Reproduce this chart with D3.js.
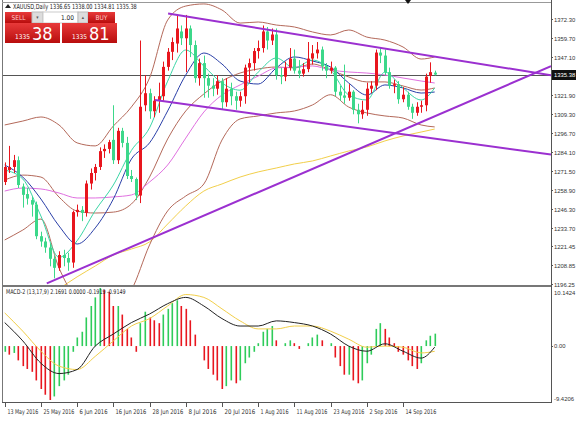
<!DOCTYPE html>
<meta charset="utf-8">
<style>
body { margin: 0; background: #fff; }
svg { display: block; }
text { font-family: "Liberation Sans Narrow", "DejaVu Sans Condensed", "Liberation Sans", sans-serif; }
text.ax { font-family: "Liberation Sans", sans-serif; font-size: 5.9px; }
</style>
<body>
<script src="https://d3js.org/d3.v7.min.js"></script>
<script>
// daily bars, 13 May - 23 Sep 2016
var dates = ["2016-05-13","2016-05-16","2016-05-17","2016-05-18","2016-05-19","2016-05-20","2016-05-23","2016-05-24","2016-05-25","2016-05-26","2016-05-27","2016-05-30","2016-05-31",
  "2016-06-01","2016-06-02","2016-06-03","2016-06-06","2016-06-07","2016-06-08","2016-06-09","2016-06-10","2016-06-13","2016-06-14","2016-06-15","2016-06-16","2016-06-17","2016-06-20","2016-06-21","2016-06-22","2016-06-23","2016-06-24","2016-06-27","2016-06-28","2016-06-29","2016-06-30",
  "2016-07-01","2016-07-04","2016-07-05","2016-07-06","2016-07-07","2016-07-08","2016-07-11","2016-07-12","2016-07-13","2016-07-14","2016-07-15","2016-07-18","2016-07-19","2016-07-20","2016-07-21","2016-07-22","2016-07-25","2016-07-26","2016-07-27","2016-07-28","2016-07-29",
  "2016-08-01","2016-08-02","2016-08-03","2016-08-04","2016-08-05","2016-08-08","2016-08-09","2016-08-10","2016-08-11","2016-08-12","2016-08-15","2016-08-16","2016-08-17","2016-08-18","2016-08-19","2016-08-22","2016-08-23","2016-08-24","2016-08-25","2016-08-26","2016-08-29","2016-08-30","2016-08-31",
  "2016-09-01","2016-09-02","2016-09-05","2016-09-06","2016-09-07","2016-09-08","2016-09-09","2016-09-12","2016-09-13","2016-09-14","2016-09-15","2016-09-16","2016-09-19","2016-09-20","2016-09-21","2016-09-22","2016-09-23"];

var open = [1264,1272,1274,1278.5,1261,1256,1252,1249,1228,1224.5,1220.5,1213,1207,1215.5,1213.5,1210.5,1244,1245.5,1243.5,1263,1270,1274,1284.5,1286,1292,1278.5,1298,1290,1268,1266,1255,1315,1323,1311,1318,
  1321,1340.5,1350.5,1356,1364,1359.5,1366,1355,1333,1343,1333,1328,1326,1331,1317,1326,1321,1318,1321,1340,1343,
  1351,1353,1364,1358,1362,1335,1334,1340,1346,1338,1336,1339,1346,1349.5,1352,1341,1338,1340,1324,1321.5,1320,1324,1312,
  1309,1312,1326,1328,1350,1348,1337,1328,1329,1319,1322,1314,1310,1314,1315,1334.5,1336.65];
var high = [1277,1288,1282,1281,1263,1260,1254,1251,1231,1227,1223,1215,1218,1219,1217,1245,1249,1248,1265,1273,1276,1287,1289,1292,1315,1300,1300,1294,1272,1267,1358,1335,1326,1321,1330,
  1344,1353,1360,1375,1368,1375,1368,1358,1346,1348,1336,1333,1335,1333,1333,1330,1324,1324,1342,1346,1353,
  1358,1368,1367,1366,1366,1340,1344,1353,1352,1345,1343,1357,1355,1357,1354,1343,1344,1341,1328,1342,1329,1325,1316,
  1318,1330,1331,1352,1353,1352,1340,1332,1331,1327,1324,1316,1317,1318,1336,1343.5,1338];
var low = [1262,1270,1270,1260,1247,1249,1241,1226,1221,1217,1208,1200,1205,1208,1205,1207,1241,1238,1241,1259,1265,1272,1280,1283,1276,1276,1287,1266,1264,1252,1250,1311,1306,1307,1310,
  1318,1338,1345,1350,1355,1337,1347,1330,1328,1320,1320,1321,1322,1312,1314,1315,1312,1314,1316,1330,1338,
  1346,1350,1352,1355,1332,1329,1331,1338,1336,1333,1334,1337,1342,1346,1338,1333,1336,1321,1318,1316,1318,1309,1303,
  1306,1308,1323,1325,1343,1335,1326,1323,1316,1317,1312,1306,1308,1310,1311,1330,1334.81];
var close = [1274,1274,1278.5,1262,1255.5,1253,1249,1228,1224.5,1220.5,1213,1207,1215.5,1213.5,1210.5,1244,1245.5,1243.5,1263,1270,1274,1284.5,1286,1290.5,1278.5,1298,1290,1268,1266,1255,1314,1323,1311,1318,1321,
  1340.5,1350.5,1357,1366,1359.5,1366,1355,1333,1343,1333,1328,1326,1331,1317,1326,1321,1318,1321,1340,1343,1351,
  1353,1364,1358,1362,1335,1334,1340,1346,1338,1336,1339,1346,1349.5,1352,1341,1338,1340,1324,1321.5,1320,1324,1312,1309,
  1312,1326,1328,1350,1348,1337,1328,1329,1319,1322,1314,1310,1314,1315,1334,1337,1335.38];

// indicator lines, read at these bars
var sampleBars = [0,4,8,12,16,20,24,28,32,36,40,44,48,52,56,60,64,68,72,76,80,84,88,92,95];
var maFast    = [1272,1266,1241.4,1214,1225,1245,1262,1285,1300,1331,1351.7,1341,1329.8,1325,1337,1346.4,1339.8,1345,1338.4,1321.8,1318.5,1337,1326.5,1318.5,1326.5];
var maMid     = [1275.3,1267.3,1252.7,1234.8,1222.8,1233.5,1252.7,1279.3,1290,1311.2,1335.1,1349.7,1342.4,1331.1,1329.1,1339.8,1347.1,1344.4,1340.4,1329.8,1321.8,1328.5,1326.5,1323.1,1323.8];
var maSlow    = [1258,1260,1259.4,1256.7,1253.4,1253.4,1254.1,1255.4,1264,1275.3,1293.2,1310.5,1321.8,1328.5,1334.4,1339.8,1340.4,1341.1,1338.4,1337.1,1336.4,1335.1,1333.1,1331.1,1329.8];
var maLong    = [null,null,null,1193,1201,1208.2,1215.5,1219.5,1224.2,1236.1,1248.1,1258,1262.7,1267.3,1270.7,1273.3,1276,1278,1281.3,1284.6,1287.3,1291.3,1294.6,1297.2,1299.2];
var bandUpper = [1301.9,1304.5,1307.2,1301.9,1290,1288,1301.2,1313.9,1333.1,1371.6,1380.9,1382.3,1378.3,1369.6,1370.3,1368.3,1367,1363.7,1361.7,1365,1360.3,1358.3,1353.7,1345.7,1347.1];
var bandMid   = [1265.3,1268.6,1267.3,1254,1244.7,1243.4,1244,1249.4,1267.3,1292.6,1311.2,1322.5,1331.1,1336.4,1339.1,1340.4,1339.8,1342.4,1338.4,1333.8,1330.5,1330.5,1327.8,1325.1,1326.5];
var bandLower = [1225.5,1232.1,1239.4,1206.9,1185,1176,1180,1192.3,1222.2,1244.8,1254.7,1262.7,1291.9,1305.9,1307.9,1309.9,1311.2,1315.2,1322,1313.8,1309.9,1307.9,1306.5,1301.9,1300.6];

// MACD-2 (13,17,9)
var macdHist = [-1,-1.5,-1.2,-2.5,-3.5,-4,-4.5,-6,-7.5,-8.5,-9.4206,-8.8,-7,-6,-5,-1,1.5,2.5,5,7,8.5,10.1424,9.8,9.5,7,7,5.5,3,1.5,-1,4,6,5,4.5,
  4,5.5,6.5,7.5,8,7,6.5,4.5,2,0,-2.5,-4,-5,-6,-7.5,-7,-6,-6.5,-6,-3,-2,-1,0.5,2.5,3,3.5,1,0,0.5,1,0.5,-0.5,
  0,0.5,1.5,2,1,0,0.5,-2,-3.5,-5,-5,-6,-6.5,-6,-3,-1.5,3,4,3,1.5,0.5,-1,-1.5,-2.5,-3.5,-4,-3,1,1.8,2.1691];
var macdMain   = [4.1,0.9,-3,-4.8,-4.1,0,2.1,4.1,5.6,7.4,8.5,7,4.8,3.5,3.5,4.4,4.1,3.5,2.1,0,-0.9,0.4,-0.9,-2.1,-0.1919];
var macdSignal = [5.8,2.6,-0.9,-3.5,-4.1,-1.8,0.9,3.5,4.8,7,9,8.5,6.5,4.4,3,3,3.5,3.5,2.6,1.2,-0.2,0,-0.2,-1.2,-0.9149];

var priceTicks = [1372.30,1359.70,1347.10,1321.90,1309.30,1296.70,1284.10,1271.50,1258.90,1246.30,1233.70,1221.45,1208.85,1196.25];
var lastPrice = 1335.38, askPrice = 1335.81;
var macdMax = 10.1424, macdMin = -9.4206;
// trend lines: [bar, price, bar, price]
var trendLines = [[36.1,1375.9,120.7,1334.9],[33.2,1318.5,120.7,1282.2],[9.3,1196.7,120.7,1341.0]];

var W = 576, H = 425;
var plotL = 3, plotR = 551;
var mainTop = 3, mainBot = 285, macdTop = 287, macdBot = 402;

var svg = d3.select("body").append("svg").attr("width", W).attr("height", H);
var defs = svg.append("defs");
defs.append("clipPath").attr("id", "clipMain").append("rect")
  .attr("x", plotL).attr("y", mainTop).attr("width", plotR - plotL).attr("height", mainBot - mainTop);
defs.append("clipPath").attr("id", "clipMacd").append("rect")
  .attr("x", plotL).attr("y", macdTop).attr("width", plotR - plotL).attr("height", macdBot - macdTop);

var x = d3.scaleLinear().domain([0, dates.length - 1]).range([4.7, 434.7]);
var y = d3.scaleLinear().domain([1196.25, 1372.30]).range([284, 19]);
var ym = d3.scaleLinear().domain([macdMin, macdMax]).range([400, 288]);
var parse = d3.timeParse("%Y-%m-%d"), fmt = d3.timeFormat("%-d %b %Y");

// narrow text helper (chart font is a small tahoma)
function label(g, tx, ty, str, size, perChar, color) {
  return g.append("text").attr("x", tx).attr("y", ty).attr("font-size", size)
    .attr("fill", color || "#333").attr("textLength", str.length * perChar)
    .attr("lengthAdjust", "spacingAndGlyphs").text(str);
}
function axLabel(g, ty, str, color) {
  return g.append("text").attr("class", "ax").attr("x", plotR + 3).attr("y", ty)
    .attr("fill", color || "#333").text(str);
}

// frames
svg.append("line").attr("x1", 2.5).attr("x2", 2.5).attr("y1", 0).attr("y2", macdBot).attr("stroke", "#777");
svg.append("line").attr("x1", 2).attr("x2", plotR).attr("y1", 2.5).attr("y2", 2.5).attr("stroke", "#999");
svg.append("line").attr("x1", plotR + 0.5).attr("x2", plotR + 0.5).attr("y1", 0).attr("y2", macdBot + 1).attr("stroke", "#555");
svg.append("line").attr("x1", 2).attr("x2", plotR).attr("y1", mainBot + 0.5).attr("y2", mainBot + 0.5).attr("stroke", "#777");
svg.append("line").attr("x1", 2).attr("x2", plotR).attr("y1", macdTop - 0.5).attr("y2", macdTop - 0.5).attr("stroke", "#777");
svg.append("line").attr("x1", 2).attr("x2", plotR + 1).attr("y1", macdBot + 0.5).attr("y2", macdBot + 0.5).attr("stroke", "#555");

var main = svg.append("g").attr("clip-path", "url(#clipMain)");

// price line
main.append("line").attr("x1", plotL).attr("x2", plotR)
  .attr("y1", Math.round(y(lastPrice)) + 0.5).attr("y2", Math.round(y(lastPrice)) + 0.5)
  .attr("stroke", "#555").attr("stroke-width", 1);

function sampled(arr) {
  return arr.map(function(v, k) { return { i: sampleBars[k], v: v }; });
}
function drawLine(g, arr, scale, color, width) {
  var line = d3.line().defined(function(d) { return d.v != null; })
    .x(function(d) { return x(d.i); }).y(function(d) { return scale(d.v); })
    .curve(d3.curveMonotoneX);
  g.append("path").datum(sampled(arr)).attr("d", line)
    .attr("fill", "none").attr("stroke", color).attr("stroke-width", width || 1);
}

drawLine(main, maLong, y, "#f2cf4a");
drawLine(main, bandUpper, y, "#b4695a");
drawLine(main, bandMid, y, "#b4695a");
drawLine(main, bandLower, y, "#b4695a");
drawLine(main, maSlow, y, "#e070e0");
drawLine(main, maMid, y, "#2a3fa8");
drawLine(main, maFast, y, "#3ad6a6");

// candles
var bars = dates.map(function(d, i) { return { i: i, o: open[i], h: high[i], l: low[i], c: close[i] }; });
var upCol = "#e8161e", dnCol = "#3cd88a";
main.selectAll("line.wick").data(bars).enter().append("line")
  .attr("x1", function(d) { return Math.round(x(d.i)) + 0.5; })
  .attr("x2", function(d) { return Math.round(x(d.i)) + 0.5; })
  .attr("y1", function(d) { return y(d.h); })
  .attr("y2", function(d) { return y(d.l); })
  .attr("stroke", function(d) { return d.c >= d.o ? upCol : dnCol; });
main.selectAll("rect.body").data(bars).enter().append("rect")
  .attr("x", function(d) { return Math.round(x(d.i)) - 1; })
  .attr("width", 3)
  .attr("y", function(d) { return y(Math.max(d.o, d.c)); })
  .attr("height", function(d) { return Math.max(1, Math.abs(y(d.o) - y(d.c))); })
  .attr("fill", function(d) { return d.c >= d.o ? upCol : dnCol; });

// trend lines
main.selectAll("line.trend").data(trendLines).enter().append("line")
  .attr("x1", function(d) { return x(d[0]); }).attr("y1", function(d) { return y(d[1]); })
  .attr("x2", function(d) { return x(d[2]); }).attr("y2", function(d) { return y(d[3]); })
  .attr("stroke", "#9b30d0").attr("stroke-width", 2);

// price axis
var axis = svg.append("g");
priceTicks.forEach(function(p) {
  var yy = Math.round(y(p)) + 0.5;
  axis.append("line").attr("x1", plotR).attr("x2", plotR + 2).attr("y1", yy).attr("y2", yy).attr("stroke", "#555");
  axLabel(axis, yy + 2.2, p.toFixed(2));
});
var yl = Math.round(y(lastPrice));
axis.append("rect").attr("x", plotR + 1).attr("y", yl - 5).attr("width", 24).attr("height", 10).attr("fill", "#111");
axLabel(axis, yl + 2.2, lastPrice.toFixed(2), "#fff");

// MACD
var mg = svg.append("g").attr("clip-path", "url(#clipMacd)");
mg.selectAll("rect.hist").data(macdHist).enter().append("rect")
  .attr("x", function(d, i) { return Math.round(x(i)) - 0.5; })
  .attr("width", 1.6)
  .attr("y", function(d) { return Math.min(ym(d), ym(0)); })
  .attr("height", function(d) { return Math.abs(ym(d) - ym(0)); })
  .attr("fill", function(d, i) { return i > 0 && d < macdHist[i - 1] ? "#e8161e" : "#2ecc5a"; });
drawLine(mg, macdSignal, ym, "#f2cf4a");
drawLine(mg, macdMain, ym, "#222");

axLabel(axis, ym(macdMax) + 7, macdMax.toFixed(4));
axis.append("line").attr("x1", plotR).attr("x2", plotR + 2).attr("y1", Math.round(ym(0)) + 0.5).attr("y2", Math.round(ym(0)) + 0.5).attr("stroke", "#555");
axLabel(axis, ym(0) + 2.2, "0.00");
axLabel(axis, ym(macdMin) + 1, macdMin.toFixed(4));

label(svg, 6, macdTop + 7, "MACD-2 (13,17,9) 2.1691 0.0000 -0.1919 -0.9149", 6.5, 2.6, "#222");

// time axis
var tg = svg.append("g");
dates.forEach(function(d, i) {
  if (i % 8 !== 0) return;
  var xx = Math.round(x(i)) + 0.5;
  tg.append("line").attr("x1", xx).attr("x2", xx).attr("y1", macdBot + 1).attr("y2", macdBot + 5).attr("stroke", "#555");
  var s = fmt(parse(d));
  label(tg, xx + 2, 414, s, 6.5, 2.8);
});

// header
svg.append("path").attr("d", "M5,8 L8,4 L11,8 Z").attr("fill", "#222");
label(svg, 13, 9, "XAUUSD,Daily  " + [open[95], high[95], low[95], close[95]].map(function(v) { return v.toFixed(2); }).join(" "), 7, 2.75, "#222");
svg.append("path").attr("d", "M405,0 L411,0 L408,4 Z").attr("fill", "#111");

// one click trading panel
var grad = defs.append("linearGradient").attr("id", "redg").attr("x1", 0).attr("x2", 0).attr("y1", 0).attr("y2", 1);
grad.append("stop").attr("offset", 0).attr("stop-color", "#e83a3a");
grad.append("stop").attr("offset", 1).attr("stop-color", "#b80d0d");
var tp = svg.append("g");
tp.append("rect").attr("x", 5).attr("y", 12).attr("width", 27).attr("height", 11).attr("fill", "url(#redg)");
tp.append("text").attr("x", 18.5).attr("y", 20).attr("text-anchor", "middle").attr("font-size", 6.5).attr("fill", "#fcc").text("SELL");
tp.append("rect").attr("x", 32).attr("y", 12).attr("width", 11).attr("height", 11).attr("fill", "#ddd").attr("stroke", "#bbb");
tp.append("text").attr("x", 37.5).attr("y", 19).attr("text-anchor", "middle").attr("font-size", 5).attr("fill", "#555").text("▾");
tp.append("rect").attr("x", 43).attr("y", 12).attr("width", 35).attr("height", 11).attr("fill", "#fff").attr("stroke", "#ccc");
tp.append("text").attr("x", 74).attr("y", 20).attr("text-anchor", "end").attr("font-size", 6.5).attr("fill", "#222").text("1.00");
tp.append("rect").attr("x", 78).attr("y", 12).attr("width", 10).attr("height", 11).attr("fill", "#ddd").attr("stroke", "#bbb");
tp.append("text").attr("x", 83).attr("y", 19).attr("text-anchor", "middle").attr("font-size", 5).attr("fill", "#555").text("▴");
tp.append("rect").attr("x", 88).attr("y", 12).attr("width", 27).attr("height", 11).attr("fill", "url(#redg)");
tp.append("text").attr("x", 101.5).attr("y", 20).attr("text-anchor", "middle").attr("font-size", 6.5).attr("fill", "#fcc").text("BUY");
[[5, lastPrice], [62, askPrice]].forEach(function(b) {
  var s = b[1].toFixed(2).split(".");
  tp.append("rect").attr("x", b[0]).attr("y", 23).attr("width", 55).attr("height", 20).attr("fill", "url(#redg)");
  tp.append("text").attr("x", b[0] + 10).attr("y", 39).attr("font-size", 6.5).attr("fill", "#fff").text(s[0]);
  tp.append("text").attr("x", b[0] + 27).attr("y", 40).attr("font-size", 18).attr("fill", "#fff").text(s[1]);
});
</script>
</body>
